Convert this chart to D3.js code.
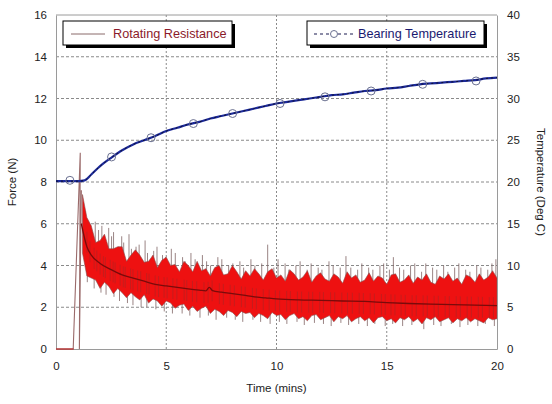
<!DOCTYPE html>
<html><head><meta charset="utf-8">
<script src="https://cdn.jsdelivr.net/npm/d3@7"></script>
<style>
body{margin:0;background:#fff;}
text{font-family:"Liberation Sans",Arial,sans-serif;}
</style></head>
<body><svg id="c" width="552" height="404"></svg>
<script>
// ---- data ----
const xTicks = [0,5,10,15,20];
const forceTicks = [0,2,4,6,8,10,12,14,16];
const tempTicks = [0,5,10,15,20,25,30,35,40];

// Bearing temperature (deg C)
const tempTime = [0,0.5,1,1.3,1.6,2,2.5,3,3.5,4,4.5,5,5.5,6,6.5,7,7.5,8,8.5,9,9.5,10,10.5,11,11.5,12,12.5,13,13.5,14,14.5,15,15.5,16,16.5,17,17.5,18,18.5,19,19.5,20];
const tempVal  = [20.1,20.1,20.1,20.2,20.9,21.9,22.9,23.8,24.5,25.0,25.5,26.1,26.5,26.9,27.2,27.6,27.9,28.2,28.5,28.8,29.1,29.4,29.6,29.8,30.0,30.2,30.4,30.5,30.7,30.9,31.0,31.2,31.3,31.5,31.7,31.8,31.9,32.0,32.1,32.2,32.4,32.5];
const markerTime = [0.63,2.52,4.31,6.23,8.01,10.16,12.2,14.29,16.63,19.05];
const markerTemp = [20.2,23.0,25.3,27.0,28.2,29.4,30.2,30.9,31.7,32.1];

// Rotating resistance (N): start-up trace
const startTime = [0,0.78,1.1,1.06,1.15];
const startVal  = [0,0,9.4,0,7.6];
// smoothed mean
const meanTime = [1.15,1.4,1.6,2.0,2.5,3.0,3.5,4.0,4.5,5.0,5.5,6.0,6.5,6.8,6.95,7.1,7.5,8.0,8.5,9.0,9.5,10,11,12,13,14,15,16,17,18,19,20];
const meanVal  = [6.0,4.9,4.5,4.1,3.8,3.55,3.4,3.25,3.1,3.02,2.95,2.88,2.82,2.78,2.95,2.8,2.72,2.65,2.58,2.5,2.45,2.4,2.35,2.33,2.3,2.28,2.22,2.18,2.15,2.13,2.1,2.08];
// dense noise band (upper / lower excursions)
const envTime = [1.2,1.4,1.6,1.8,2.0,2.2,2.4,2.6,2.8,3.0,3.2,3.4,3.6,3.8,4.0,4.2,4.4,4.6,4.8,5.0,5.2,5.4,5.6,5.8,6.0,6.2,6.4,6.6,6.8,7.0,7.2,7.4,7.6,7.8,8.0,8.2,8.4,8.6,8.8,9.0,9.2,9.4,9.6,9.8,10.0,10.2,10.4,10.6,10.8,11.0,11.2,11.4,11.6,11.8,12.0,12.2,12.4,12.6,12.8,13.0,13.2,13.4,13.6,13.8,14.0,14.2,14.4,14.6,14.8,15.0,15.2,15.4,15.6,15.8,16.0,16.2,16.4,16.6,16.8,17.0,17.2,17.4,17.6,17.8,18.0,18.2,18.4,18.6,18.8,19.0,19.2,19.4,19.6,19.8,20.0];
const envHigh = [7.4,6.3,5.9,5.1,5.2,5.5,4.8,4.8,4.9,4.9,4.2,4.5,4.75,4.5,4.15,4.2,4.5,3.9,4.25,4.4,4.0,4.05,3.7,4.2,4.0,3.7,4.2,3.75,3.85,3.5,3.9,4.0,3.55,3.6,4.0,3.7,3.35,3.75,3.5,3.85,3.6,3.3,3.7,3.85,3.4,3.55,3.25,3.8,3.6,3.3,3.45,3.75,3.2,3.5,3.65,3.35,3.25,3.6,3.45,3.15,3.7,3.4,3.55,3.2,3.3,3.65,3.25,3.5,3.4,3.1,3.55,3.6,3.2,3.3,3.55,3.15,3.45,3.3,3.6,3.2,3.1,3.5,3.35,3.6,3.25,3.4,3.1,3.55,3.45,3.2,3.6,3.3,3.45,3.75,3.4];
const envLow  = [4.6,3.5,3.4,3.3,2.9,3.2,3.0,2.65,2.9,2.7,2.45,2.7,2.5,2.35,2.6,2.2,2.4,2.3,2.05,2.3,2.2,1.95,2.1,2.15,1.85,2.05,1.8,1.95,2.05,1.7,1.9,1.8,1.6,1.85,1.75,1.55,1.8,1.7,1.75,1.5,1.7,1.6,1.45,1.75,1.6,1.65,1.4,1.6,1.7,1.45,1.55,1.35,1.6,1.65,1.4,1.5,1.6,1.3,1.55,1.45,1.6,1.3,1.45,1.55,1.35,1.5,1.25,1.5,1.55,1.35,1.45,1.25,1.5,1.4,1.55,1.3,1.45,1.2,1.5,1.4,1.55,1.3,1.4,1.5,1.25,1.45,1.35,1.5,1.3,1.45,1.35,1.25,1.5,1.4,1.45];
// visible spikes
const spikeUpTime = [1.33,1.47,1.66,1.78,1.93,2.08,2.17,2.39,2.52,2.61,2.84,2.98,3.07,3.31,3.42,3.63,3.77,4.04,4.15,4.43,4.58,4.83,4.97,5.23,5.41,5.74,5.86,6.12,6.31,6.64,6.83,7.01,7.34,7.52,7.83,8.02,8.34,8.51,8.84,9.02,9.33,9.6,9.88,10.07,10.39,10.56,10.88,11.07,11.39,11.57,11.89,12.06,12.38,12.57,12.89,13.15,13.37,13.68,13.87,14.18,14.37,14.69,14.86,15.12,15.3,15.58,15.77,16.08,16.27,16.58,16.77,17.08,17.27,17.58,17.77,18.08,18.27,18.58,18.77,19.08,19.27,19.58,19.77,19.95];
const spikeUpVal  = [6.6,6.0,5.5,6.1,5.7,5.9,5.2,5.8,5.4,5.6,4.9,5.4,5.1,5.5,4.8,4.9,5.0,5.2,4.6,4.7,4.9,4.5,4.4,4.8,4.6,4.4,4.2,4.6,4.3,4.5,4.2,4.0,4.4,4.3,4.0,4.1,4.2,3.9,4.3,4.0,4.1,5.0,3.9,4.3,4.1,3.8,4.0,4.2,3.8,4.1,3.9,3.8,4.2,4.0,3.9,4.45,3.9,3.8,4.1,3.9,3.8,4.0,4.1,3.8,4.4,3.9,3.8,4.0,4.1,3.7,4.1,3.9,3.8,4.0,3.7,3.9,4.1,3.8,3.7,4.0,3.9,3.8,4.1,4.3];
const spikeDnTime = [1.42,1.73,2.04,2.27,2.63,2.88,3.24,3.49,3.86,4.12,4.53,4.91,5.28,5.72,6.07,6.53,6.91,7.26,7.74,8.13,8.47,8.93,9.28,9.71,10.13,10.47,10.93,11.26,11.72,12.13,12.48,12.92,13.27,13.73,14.12,14.46,14.93,15.27,15.72,16.14,16.68,17.13,17.46,17.93,18.32,18.68,19.13,19.47,19.88];
const spikeDnVal  = [3.2,2.9,2.7,2.6,2.5,2.3,2.2,2.1,2.0,2.0,1.9,1.8,1.7,1.7,1.6,1.5,1.6,1.4,1.5,1.4,1.3,1.4,1.3,1.2,1.3,1.2,1.3,1.15,1.25,1.2,1.1,1.25,1.15,1.2,1.1,1.2,1.1,1.2,1.1,1.15,0.95,1.15,1.1,1.2,1.05,1.15,1.1,1.2,1.1];

// ---- drawing ----
const W = 552, H = 404;
const m = {l:56, r:55, t:15, b:55};
const svg = d3.select("#c");
const x = d3.scaleLinear().domain([0,20]).range([m.l, W-m.r]);
const yF = d3.scaleLinear().domain([0,16]).range([H-m.b, m.t]);
const yT = d3.scaleLinear().domain([0,40]).range([H-m.b, m.t]);

// grid
const grid = svg.append("g");
grid.selectAll("line.v").data(xTicks.slice(1,-1)).join("line")
  .attr("x1", d=>x(d)).attr("x2", d=>x(d)).attr("y1", yF(0)).attr("y2", yF(16))
  .attr("stroke","#8a8a8a").attr("stroke-dasharray","2,2").attr("stroke-width",1);
grid.selectAll("line.h").data(forceTicks.slice(1,-1)).join("line")
  .attr("y1", d=>yF(d)).attr("y2", d=>yF(d)).attr("x1", x(0)).attr("x2", x(20))
  .attr("stroke","#8a8a8a").attr("stroke-dasharray","3,2").attr("stroke-width",1);

// axes
const axL = svg.append("g").attr("transform",`translate(${m.l},0)`)
  .call(d3.axisLeft(yF).tickValues(forceTicks).tickSize(0).tickPadding(9));
const axR = svg.append("g").attr("transform",`translate(${W-m.r},0)`)
  .call(d3.axisRight(yT).tickValues(tempTicks).tickSize(0).tickPadding(10));
const axB = svg.append("g").attr("transform",`translate(0,${H-m.b})`)
  .call(d3.axisBottom(x).tickValues(xTicks).tickSize(0).tickPadding(13));
[axL,axR,axB].forEach(a=>{
  a.select(".domain").attr("stroke","#9a9a9a");
  a.selectAll("text").attr("font-size",11.5).attr("fill","#222");
});
svg.append("line").attr("x1",x(0)).attr("x2",x(20)).attr("y1",yF(16)).attr("y2",yF(16)).attr("stroke","#9a9a9a");

svg.append("defs").append("clipPath").attr("id","pc").append("rect")
  .attr("x",x(0)).attr("y",yF(16)).attr("width",x(20)-x(0)).attr("height",yF(0)-yF(16)+1);
const plot = svg.append("g").attr("clip-path","url(#pc)");

// rotating resistance
const meanAt = t => {
  const i = d3.bisectLeft(meanTime, t);
  if (i<=0) return meanVal[0];
  if (i>=meanTime.length) return meanVal[meanVal.length-1];
  const f = (t-meanTime[i-1])/(meanTime[i]-meanTime[i-1]);
  return meanVal[i-1] + f*(meanVal[i]-meanVal[i-1]);
};
const pl = d3.line().x(d=>x(d[0])).y(d=>yF(d[1]));

const envData = envTime.map((t,i)=>({t, lo:envLow[i], hi:envHigh[i]}));
const spikes = spikeUpTime.map((t,i)=>[[t, meanAt(t)],[t, spikeUpVal[i]]])
  .concat(spikeDnTime.map((t,i)=>[[t, meanAt(t)],[t, spikeDnVal[i]]]));
plot.selectAll("path.sp").data(spikes).join("path").attr("class","sp")
  .attr("d", pl).attr("fill","none").attr("stroke","#806565").attr("stroke-width",0.8);
plot.append("path").datum(envData)
  .attr("d", d3.area().x(d=>x(d.t)).y0(d=>yF(d.lo)).y1(d=>yF(d.hi)))
  .attr("fill","#ee1111").attr("stroke","#8a5050").attr("stroke-width",0.6);
// thin streaks inside band
plot.selectAll("path.st").data(spikeUpTime).join("path").attr("class","st")
  .attr("d", (t,i)=>pl([[t+0.07, meanAt(t)+0.4],[t+0.07, meanAt(t)-0.6]]))
  .attr("stroke","#b52222").attr("stroke-width",0.7).attr("fill","none");

plot.append("path").datum(startTime.map((t,i)=>[t,startVal[i]]))
  .attr("d", pl).attr("fill","none").attr("stroke","#9a6a6a").attr("stroke-width",1.1);
plot.append("line").attr("x1",x(0)).attr("x2",x(0.8)).attr("y1",yF(0)).attr("y2",yF(0))
  .attr("stroke","#c03030").attr("stroke-width",1.2);

plot.append("path").datum(meanTime.map((t,i)=>[t,meanVal[i]]))
  .attr("d", d3.line().x(d=>x(d[0])).y(d=>yF(d[1])).curve(d3.curveMonotoneX))
  .attr("fill","none").attr("stroke","#7a0a0a").attr("stroke-width",1.3);

// bearing temperature
const tLine = d3.line().x((d,i)=>x(tempTime[i])).y(d=>yT(d)).curve(d3.curveMonotoneX);
plot.append("path").datum(tempVal).attr("d", tLine)
  .attr("fill","none").attr("stroke","#1c2a9a").attr("stroke-width",2.2);
plot.append("path").datum(tempVal).attr("d", tLine)
  .attr("fill","none").attr("stroke","#101030").attr("stroke-width",1).attr("stroke-dasharray","2,3");
plot.selectAll("circle.mk").data(markerTime).join("circle").attr("class","mk")
  .attr("cx", d=>x(d)).attr("cy",(d,i)=>yT(markerTemp[i])).attr("r",4)
  .attr("fill","none").attr("stroke","#6a7090").attr("stroke-width",1);

// axis titles
svg.append("text").attr("x", (x(0)+x(20))/2).attr("y", 392).attr("text-anchor","middle")
  .attr("font-size",11.5).attr("fill","#222").text("Time (mins)");
svg.append("text").attr("transform",`translate(16,${yF(8)}) rotate(-90)`).attr("text-anchor","middle")
  .attr("font-size",11.5).attr("fill","#222").text("Force (N)");
svg.append("text").attr("transform",`translate(537,${yF(8)}) rotate(90)`).attr("text-anchor","middle")
  .attr("font-size",11.5).attr("fill","#222").text("Temperature (Deg C)");

// legends
function legend(x0, y0, w, label, color, kind){
  const g = svg.append("g");
  g.append("rect").attr("x",x0+3).attr("y",y0+3).attr("width",w).attr("height",24).attr("fill","#000");
  g.append("rect").attr("x",x0).attr("y",y0).attr("width",w).attr("height",24)
    .attr("fill","#fff").attr("stroke","#000").attr("stroke-width",1);
  if(kind==="line"){
    g.append("line").attr("x1",x0+8).attr("x2",x0+42).attr("y1",y0+13).attr("y2",y0+13)
      .attr("stroke","#8a6a6a").attr("stroke-width",1);
    g.append("text").attr("x",x0+50).attr("y",y0+17).attr("font-size",12.7).attr("fill",color).text(label);
  } else {
    g.append("line").attr("x1",x0+7).attr("x2",x0+47).attr("y1",y0+13).attr("y2",y0+13)
      .attr("stroke","#1a1a50").attr("stroke-width",1.2).attr("stroke-dasharray","3,3");
    g.append("circle").attr("cx",x0+27).attr("cy",y0+13).attr("r",3.5)
      .attr("fill","#fff").attr("stroke","#6a7090");
    g.append("text").attr("x",x0+51).attr("y",y0+17).attr("font-size",12.7).attr("fill",color).text(label);
  }
}
legend(63, 21, 169, "Rotating Resistance", "#8b1a2a", "line");
legend(307, 21, 177, "Bearing Temperature", "#1a1a70", "mk");
</script></body></html>
